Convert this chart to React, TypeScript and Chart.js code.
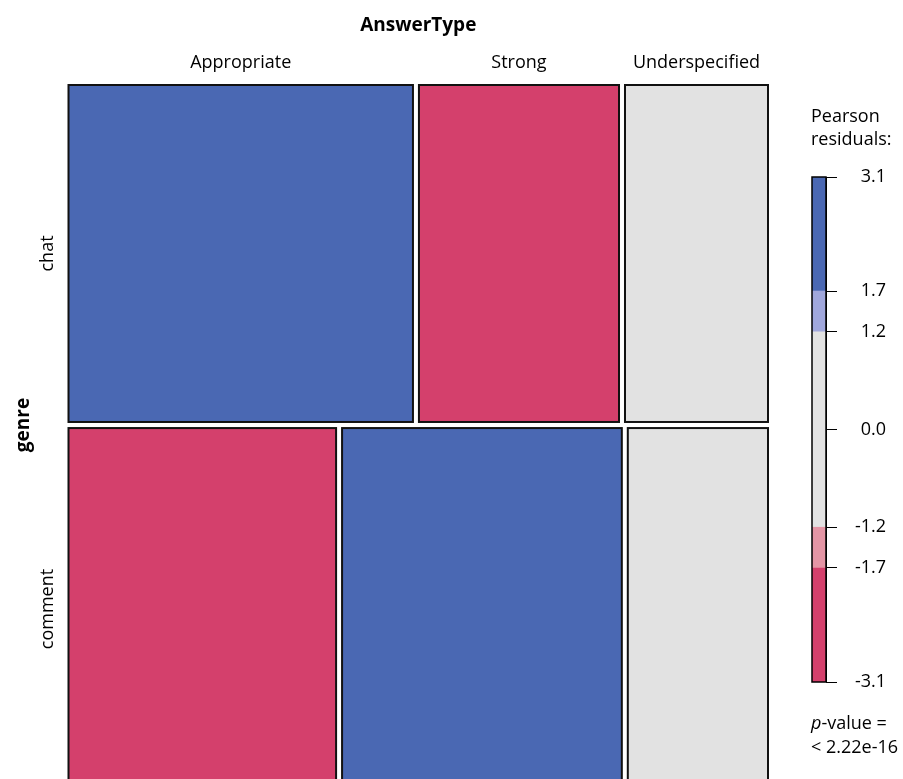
import React, { useEffect, useRef } from "react";
import { Chart, registerables } from "chart.js";

Chart.register(...registerables);

// Contingency table: genre x AnswerType
const genres = ["chat", "comment"];
const answerTypes = ["Appropriate", "Strong", "Underspecified"];
const chatCounts = [501, 291, 208];
const commentCounts = [418, 437, 219];

// Residual legend
const legendTicks = [-3.1, -1.7, -1.2, 0, 1.2, 1.7, 3.1];
const legendBands = [
  [-3.1, -1.7],
  [-1.7, -1.2],
  [-1.2, 1.2],
  [1.2, 1.7],
  [1.7, 3.1],
];
const pValueText = "< 2.22e-16";

const FONT = '"Open Sans", "Noto Sans", sans-serif';
const BLUE = "#4a68b3";
const BLUE_LIGHT = "#a0a7dc";
const GREY = "#e2e2e2";
const PINK = "#d4406c";
const PINK_LIGHT = "#e495a5";
const bandColors = [PINK, PINK_LIGHT, GREY, BLUE_LIGHT, BLUE];

const GAP = 0.0087; // spacing between tiles, in plot units
const Y_VIEW = 0.993; // visible extent of the vertical axis

function shade(r: number): string {
  if (r > 1.7) return BLUE;
  if (r > 1.2) return BLUE_LIGHT;
  if (r < -1.7) return PINK;
  if (r < -1.2) return PINK_LIGHT;
  return GREY;
}

type Tile = { x0: number; x1: number; y0: number; y1: number; color: string };

function buildTiles() {
  const table = [chatCounts, commentCounts];
  const rowTotals = table.map((r) => r.reduce((a, b) => a + b, 0));
  const n = rowTotals.reduce((a, b) => a + b, 0);
  const colTotals = answerTypes.map((_, j) => table.reduce((s, r) => s + r[j], 0));
  const tiles: Tile[][] = [];
  const rows: { y0: number; y1: number }[] = [];
  let y = 0;
  table.forEach((row, i) => {
    const h = rowTotals[i] / n;
    let x = 0;
    const rowTiles: Tile[] = [];
    row.forEach((obs, j) => {
      const w = obs / rowTotals[i];
      const expected = (rowTotals[i] * colTotals[j]) / n;
      const resid = (obs - expected) / Math.sqrt(expected);
      rowTiles.push({ x0: x, x1: x + w, y0: y, y1: y + h, color: shade(resid) });
      x += w + GAP;
    });
    tiles.push(rowTiles);
    rows.push({ y0: y, y1: y + h });
    y += h + GAP;
  });
  return { tiles, rows };
}

const mosaicPlugin = {
  id: "mosaic",
  afterDraw(chart: any) {
    const { ctx, chartArea, scales } = chart;
    const sx = scales.x;
    const sy = scales.y;
    const { tiles, rows } = buildTiles();
    ctx.save();
    tiles.forEach((row) =>
      row.forEach((t) => {
        const px0 = sx.getPixelForValue(t.x0);
        const px1 = sx.getPixelForValue(t.x1);
        const py0 = sy.getPixelForValue(t.y0);
        const py1 = sy.getPixelForValue(t.y1);
        ctx.fillStyle = t.color;
        ctx.fillRect(px0, py0, px1 - px0, py1 - py0);
        ctx.lineWidth = 2;
        ctx.strokeStyle = "#111";
        ctx.strokeRect(px0, py0, px1 - px0, py1 - py0);
      })
    );

    ctx.fillStyle = "#000";
    // variable name on top
    ctx.font = `bold 19px ${FONT}`;
    ctx.textAlign = "center";
    ctx.textBaseline = "alphabetic";
    ctx.fillText("AnswerType", (chartArea.left + chartArea.right) / 2, chartArea.top - 54);

    // level labels on top, centred over the first row of tiles
    ctx.font = `18px ${FONT}`;
    tiles[0].forEach((t, j) => {
      const cx = (sx.getPixelForValue(t.x0) + sx.getPixelForValue(t.x1)) / 2;
      ctx.fillText(answerTypes[j], cx, chartArea.top - 17);
    });

    // row labels on the left
    rows.forEach((r, i) => {
      const cy = (sy.getPixelForValue(r.y0) + sy.getPixelForValue(r.y1)) / 2;
      ctx.save();
      ctx.translate(chartArea.left - 16, cy);
      ctx.rotate(-Math.PI / 2);
      ctx.font = `18px ${FONT}`;
      ctx.fillText(genres[i], 0, 0);
      ctx.restore();
    });

    const gy = (sy.getPixelForValue(rows[0].y1) + sy.getPixelForValue(rows[1].y0)) / 2;
    ctx.save();
    ctx.translate(chartArea.left - 40, gy);
    ctx.rotate(-Math.PI / 2);
    ctx.font = `bold 19px ${FONT}`;
    ctx.fillText("genre", 0, 0);
    ctx.restore();
    ctx.restore();
  },
};

const legendTextPlugin = {
  id: "legendText",
  afterDraw(chart: any) {
    const { ctx, chartArea } = chart;
    ctx.save();
    // outline of the colour bar
    ctx.strokeStyle = "#000";
    ctx.lineWidth = 1.5;
    ctx.strokeRect(chartArea.left, chartArea.top, chartArea.right - chartArea.left, chartArea.bottom - chartArea.top);

    ctx.fillStyle = "#000";
    ctx.textAlign = "left";
    ctx.textBaseline = "alphabetic";
    ctx.font = `18px ${FONT}`;
    const lx = chartArea.left - 1;
    ctx.fillText("Pearson", lx, chartArea.top - 55);
    ctx.fillText("residuals:", lx, chartArea.top - 32);

    const by = chartArea.bottom + 47;
    ctx.font = `italic 18px ${FONT}`;
    ctx.fillText("p", lx, by);
    const pw = ctx.measureText("p").width;
    ctx.font = `18px ${FONT}`;
    ctx.fillText("-value =", lx + pw, by);
    ctx.fillText(pValueText, lx, by + 24);
    ctx.restore();
  },
};

export default function App() {
  const mainRef = useRef<HTMLCanvasElement>(null);
  const legendRef = useRef<HTMLCanvasElement>(null);

  useEffect(() => {
    const main = new Chart(mainRef.current!, {
      type: "scatter",
      data: { datasets: [] },
      options: {
        animation: false,
        responsive: false,
        layout: { padding: { left: 68.5, right: 135, top: 85, bottom: 0 } },
        plugins: { legend: { display: false }, tooltip: { enabled: false } },
        scales: {
          x: { type: "linear", min: 0, max: 1 + 2 * GAP, display: false },
          y: { type: "linear", min: 0, max: Y_VIEW, reverse: true, display: false },
        },
      },
      plugins: [mosaicPlugin],
    });

    const legend = new Chart(legendRef.current!, {
      type: "bar",
      data: {
        labels: [""],
        datasets: legendBands.map((b, i) => ({
          data: [b as [number, number]],
          backgroundColor: bandColors[i],
          borderWidth: 0,
          grouped: false,
          categoryPercentage: 1,
          barPercentage: 1,
        })),
      },
      options: {
        animation: false,
        responsive: false,
        layout: { padding: { left: 32, right: 17, top: 87, bottom: 97 } },
        plugins: { legend: { display: false }, tooltip: { enabled: false } },
        scales: {
          x: { display: false },
          y: {
            type: "linear",
            position: "right",
            min: -3.1,
            max: 3.1,
            afterBuildTicks: (scale: any) => {
              scale.ticks = legendTicks.map((v) => ({ value: v }));
            },
            afterFit: (scale: any) => {
              scale.width = 60;
            },
            grid: { drawOnChartArea: false, drawTicks: true, tickLength: 11, color: "#000", lineWidth: 1 },
            border: { display: true, color: "#000", width: 1 },
            ticks: {
              color: "#000",
              padding: 16,
              crossAlign: "far",
              font: { family: FONT, size: 18 },
              callback: (v: any) => Number(v).toFixed(1),
            },
          },
        },
      },
      plugins: [legendTextPlugin],
    });

    if ((document as any).fonts?.ready) {
      (document as any).fonts.ready.then(() => {
        main.update();
        legend.update();
      });
    }

    return () => {
      main.destroy();
      legend.destroy();
    };
  }, []);

  return (
    <div style={{ position: "absolute", left: 0, top: 0, width: 903, height: 779, background: "#fff", overflow: "hidden" }}>
      <canvas ref={mainRef} width={903} height={779} style={{ position: "absolute", left: 0, top: 0 }} />
      <canvas ref={legendRef} width={123} height={689} style={{ position: "absolute", left: 780, top: 90 }} />
    </div>
  );
}
